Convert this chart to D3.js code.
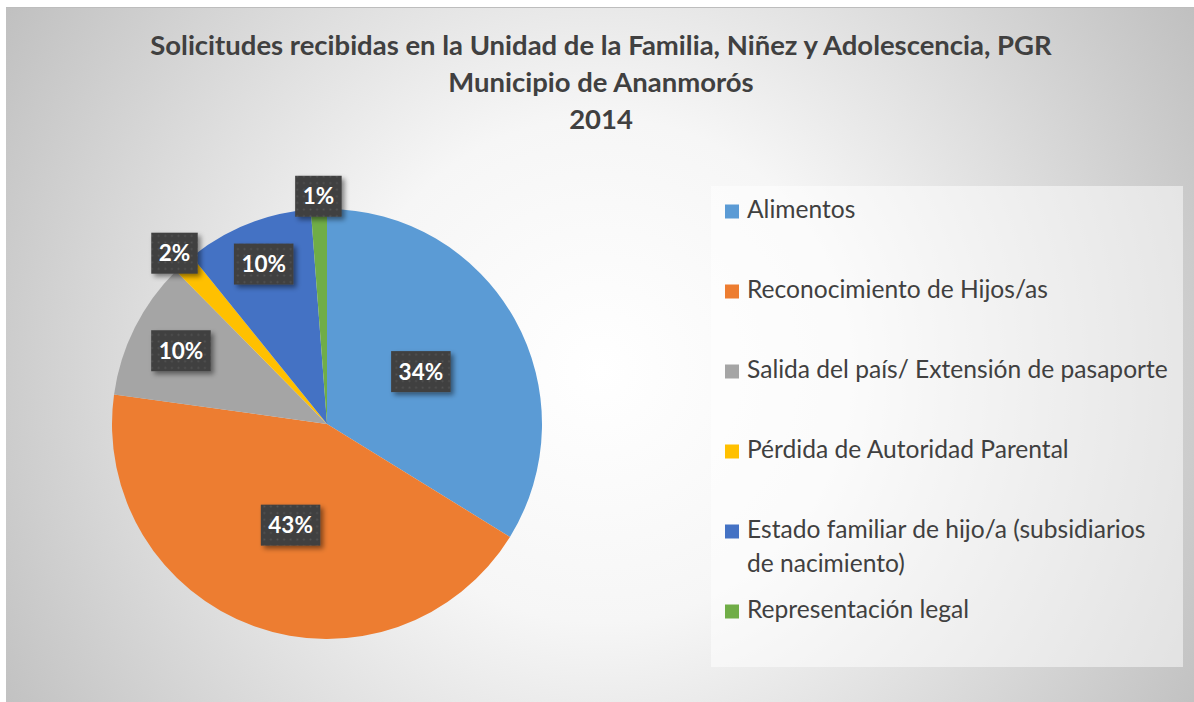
<!DOCTYPE html>
<html><head><meta charset="utf-8">
<script src="https://cdn.jsdelivr.net/npm/d3@7"></script>
<style>body{margin:0;background:#fff}svg{display:block}</style>
</head><body>
<svg id="c" width="1194" height="702"></svg>
<script>
// ---- data ----
const titleLines = ["Solicitudes recibidas en la Unidad de la Familia, Niñez y Adolescencia, PGR", "Municipio de Ananmorós", "2014"];
const categories = ["Alimentos", "Reconocimiento de Hijos/as", "Salida del país/ Extensión de pasaporte", "Pérdida de Autoridad Parental", "Estado familiar de hijo/a (subsidiarios de nacimiento)", "Representación legal"];
const values = [33.8, 43.4, 10.4, 1.6, 9.6, 1.2];
const colors = ["#5B9BD5", "#ED7D31", "#A5A5A5", "#FFC000", "#4472C4", "#70AD47"];
const labelRadiusFrac = [0.5, 0.5, 0.76, 1.065, 0.8, 1.06];

// ---- layout ----
const W = 1194, H = 702;
const FONT = "Lato, 'Open Sans', sans-serif";
const TXT = "#404040";
const svg = d3.select("#c");
const defs = svg.append("defs");

const bg = defs.append("radialGradient").attr("id", "bg")
  .attr("gradientUnits", "userSpaceOnUse").attr("cx", 600).attr("cy", 370).attr("r", 720);
bg.append("stop").attr("offset", 0).attr("stop-color", "#ffffff");
bg.append("stop").attr("offset", 0.35).attr("stop-color", "#f6f6f6");
bg.append("stop").attr("offset", 1).attr("stop-color", "#bdbdbd");

const pat = defs.append("pattern").attr("id", "dots").attr("patternUnits", "userSpaceOnUse")
  .attr("width", 6.6).attr("height", 6.6);
pat.append("rect").attr("width", 6.6).attr("height", 6.6).attr("fill", "#404040");
pat.append("rect").attr("x", 2.5).attr("y", 2.5).attr("width", 1.6).attr("height", 1.6).attr("fill", "#555555");

const sh = defs.append("filter").attr("id", "sh").attr("x", "-30%").attr("y", "-30%").attr("width", "160%").attr("height", "160%");
sh.append("feDropShadow").attr("dx", 3).attr("dy", 3).attr("stdDeviation", 2.5)
  .attr("flood-color", "#000").attr("flood-opacity", 0.45);

svg.append("rect").attr("x", 6).attr("y", 7).attr("width", W - 6).attr("height", H - 7).attr("fill", "url(#bg)");
svg.append("line").attr("x1", 6).attr("x2", W).attr("y1", 7.5).attr("y2", 7.5).attr("stroke", "#bdbdbd").attr("stroke-width", 1);

function fitSize(text, weight, targetW) {
  const t = svg.append("text").attr("font-family", FONT).attr("font-weight", weight)
    .attr("font-size", 20).text(text);
  const w = t.node().getComputedTextLength();
  t.remove();
  return 20 * targetW / w;
}

// title
const tSize = fitSize(titleLines[0], 700, 902);
svg.append("g").selectAll("text").data(titleLines).join("text")
  .attr("x", 601).attr("y", (d, i) => 55 + i * 37)
  .attr("text-anchor", "middle").attr("font-family", FONT).attr("font-weight", 700)
  .attr("font-size", tSize).attr("fill", TXT).text(d => d);

// pie
const cx = 327, cy = 424, R = 215;
const pie = d3.pie().sort(null).value(d => d);
const arcs = pie(values);
const arc = d3.arc().innerRadius(0).outerRadius(R);
const total = d3.sum(values);
const g = svg.append("g").attr("transform", `translate(${cx},${cy})`);
g.selectAll("path").data(arcs).join("path").attr("d", arc).attr("fill", (d, i) => colors[i]);

// data labels
const lSize = 22.5;
const lg = g.append("g");
arcs.forEach((d, i) => {
  const rr = R * labelRadiusFrac[i];
  const [x, y] = d3.arc().innerRadius(rr).outerRadius(rr).centroid(d);
  const label = Math.round(d.value / total * 100) + "%";
  const t = lg.append("text").attr("font-family", FONT).attr("font-weight", 700)
    .attr("font-size", lSize).attr("fill", "#fff").attr("text-anchor", "middle")
    .attr("x", x).attr("y", y + lSize * 0.36).text(label);
  const tw = t.node().getComputedTextLength();
  const bw = tw + 15, bh = 41;
  lg.insert("rect", () => t.node()).attr("x", x - bw / 2).attr("y", y - bh / 2)
    .attr("width", bw).attr("height", bh).attr("fill", "url(#dots)").attr("filter", "url(#sh)");
});

// legend
svg.append("rect").attr("x", 711).attr("y", 186).attr("width", 472).attr("height", 481)
  .attr("fill", "#ffffff").attr("fill-opacity", 0.5);
const legSize = fitSize(categories[2], 400, 421);
const maxW = 428;
function wrapLines(text) {
  const words = text.split(" ");
  const lines = [];
  let cur = "";
  const t = svg.append("text").attr("font-family", FONT).attr("font-size", legSize);
  words.forEach(w => {
    const test = cur ? cur + " " + w : w;
    t.text(test);
    if (t.node().getComputedTextLength() > maxW && cur) { lines.push(cur); cur = w; }
    else cur = test;
  });
  lines.push(cur);
  t.remove();
  return lines;
}
const leg = svg.append("g");
categories.forEach((c, i) => {
  const by = 218 + i * 80;
  leg.append("rect").attr("x", 725).attr("y", by - 13.5).attr("width", 14).attr("height", 14).attr("fill", colors[i]);
  const t = leg.append("text").attr("font-family", FONT).attr("font-size", legSize).attr("fill", TXT);
  wrapLines(c).forEach((ln, j) => {
    t.append("tspan").attr("x", 747).attr("y", by + j * 34).text(ln);
  });
});
</script>
</body></html>
